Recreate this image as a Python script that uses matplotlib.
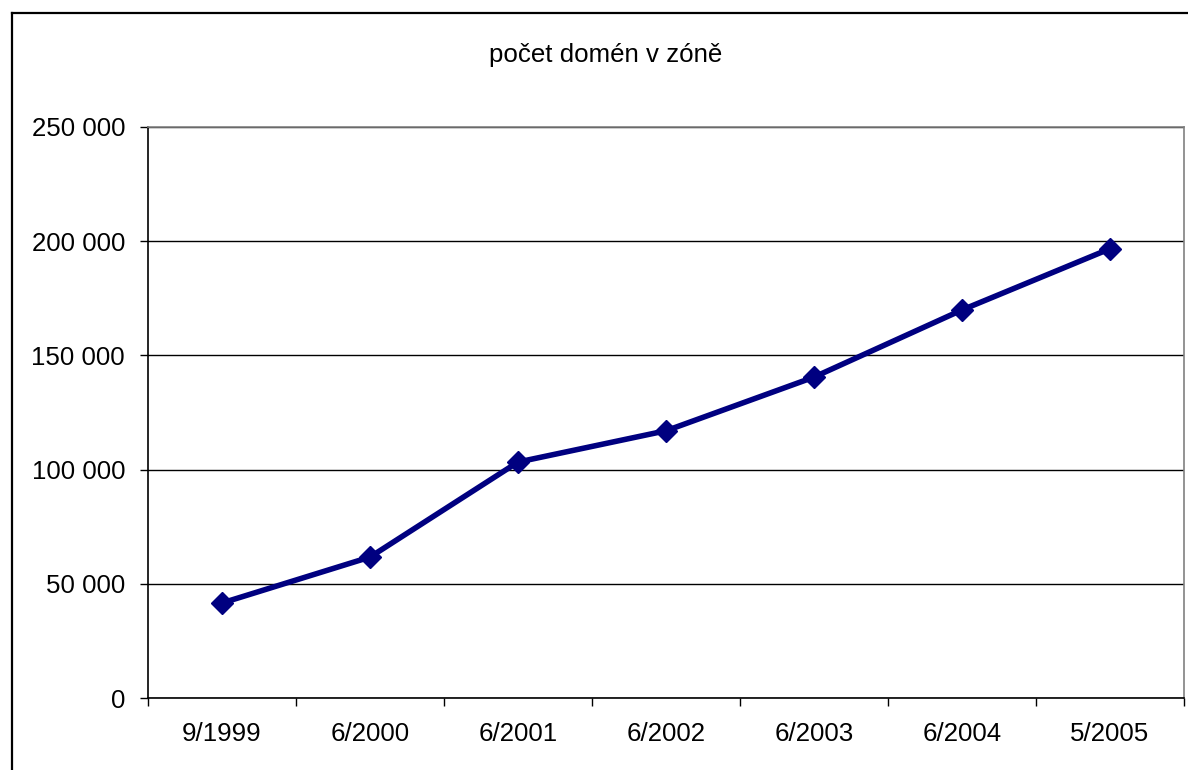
import matplotlib
matplotlib.use("Agg")
import matplotlib.pyplot as plt
from matplotlib.lines import Line2D
from matplotlib.ticker import FuncFormatter, FixedLocator

categories = ["9/1999", "6/2000", "6/2001", "6/2002", "6/2003", "6/2004", "5/2005"]
domains = [41600, 61700, 103300, 117000, 140500, 169900, 196700]
title = "počet domén v zóně"

W, H = 1188, 770
fig = plt.figure(figsize=(W / 100, H / 100), dpi=100)
plt.rcParams['font.family'] = ['Liberation Sans', 'DejaVu Sans']

left, right, top, bottom = 148, 1184, 127, 698
ax = fig.add_axes([left / W, (H - bottom) / H, (right - left) / W, (bottom - top) / H])

x = list(range(len(categories)))
ax.plot(x, domains, color="#000080", linewidth=4.0, marker="D", markersize=11,
        markerfacecolor="#000080", markeredgecolor="#000080", markeredgewidth=1,
        zorder=3, clip_on=False)

ax.set_xlim(-0.5, len(categories) - 0.5)
ax.set_ylim(0, 250000)
ax.set_yticks(range(0, 250001, 50000))
ax.yaxis.set_major_formatter(FuncFormatter(lambda v, p: f"{int(v):,}".replace(",", " ")))
ax.yaxis.grid(True, color="black", linewidth=1.0)
ax.set_axisbelow(True)

ax.xaxis.set_major_locator(FixedLocator([i - 0.5 for i in range(len(categories) + 1)]))
ax.xaxis.set_minor_locator(FixedLocator(x))
ax.set_xticklabels([""] * (len(categories) + 1))
ax.set_xticklabels(categories, minor=True)
ax.tick_params(axis="x", which="major", direction="out", length=6, width=1, color="black")
ax.tick_params(axis="x", which="minor", length=0, pad=17, labelsize=18.6)
ax.tick_params(axis="y", direction="out", length=6, width=1, pad=10.5, labelsize=18.6)

for s in ["left", "bottom"]:
    ax.spines[s].set_color("black")
    ax.spines[s].set_linewidth(1.2)
for s in ["top", "right"]:
    ax.spines[s].set_color("#808080")
    ax.spines[s].set_linewidth(1.2)

fig.text(606 / W, 1 - 55 / H, title, ha="center", va="center", fontsize=18.6)

# outer chart border (left and top visible)
fig.add_artist(Line2D([11.5 / W, 11.5 / W], [0, 1 - 12.5 / H], transform=fig.transFigure,
                      color="black", linewidth=1.6))
fig.add_artist(Line2D([11.5 / W, 1], [1 - 12.5 / H, 1 - 12.5 / H], transform=fig.transFigure,
                      color="black", linewidth=1.6))

fig.savefig("out.png", dpi=100)
